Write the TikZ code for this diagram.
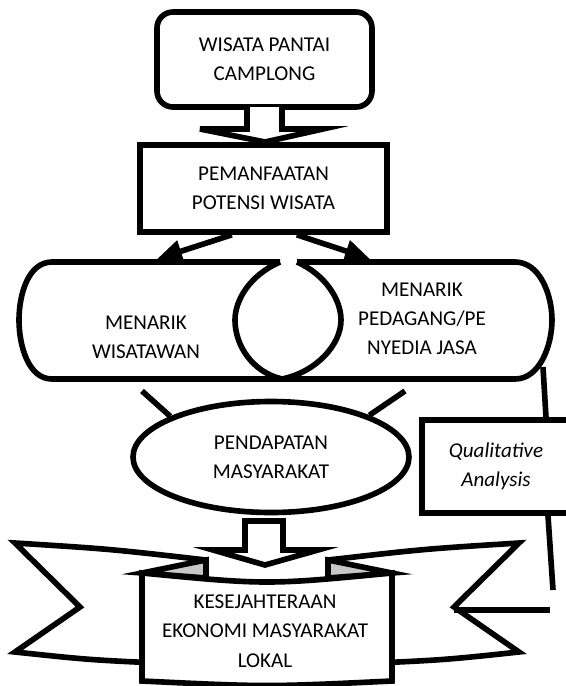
\documentclass[tikz,border=0pt]{standalone}
\usepackage{fontspec}
\setmainfont{Carlito}
\usetikzlibrary{arrows.meta,shapes.geometric}
\tikzset{bx/.style={draw,line width=4.8pt,fill=white,align=center,inner sep=1pt},
 wire/.style={line width=4.8pt},
 flow/.style={-{Triangle[length=7.5mm,width=6.5mm]},line width=4.8pt},
 band/.style={draw,line width=4.8pt,fill=white},
 txt/.style={align=center}}
\begin{document}
\begin{tikzpicture}[x=.03cm,y=-.03cm,font=\fontsize{18}{25}\selectfont]
\useasboundingbox (0,0) rectangle (566,686);
\node[bx,rounded corners=.48cm,minimum width=6.45cm,minimum height=2.85cm] (wisata) at (264.5,59.5) {WISATA PANTAI\\CAMPLONG};
\node[bx,minimum width=7.41cm,minimum height=2.61cm] (manfaat) at (263.5,188.5) {PEMANFAATAN\\POTENSI WISATA};
\draw[band] (247,107)--(247,129)--(200,129)--(265,142)--(323,129)--(282,129)--(282,107);
\draw[wire] (280,262)--(52,262) .. controls (28,262) and (19,295) .. (19,320) .. controls (19,345) and (28,379) .. (52,379)--(282,379);
\draw[wire] (297,262)--(515,262) .. controls (540,262) and (552,295) .. (552,320) .. controls (552,345) and (540,379) .. (515,379)--(282,379);
\draw[wire] (280,262) .. controls (250,275) and (235,300) .. (235,320) .. controls (235,345) and (252,372) .. (282,379);
\draw[wire] (297,262) .. controls (326,275) and (341,300) .. (341,320) .. controls (341,345) and (316,372) .. (282,379);
\coordinate (wl) at (157,259);\coordinate (wr) at (370,259);
\draw[flow] ([xshift=-.95cm]manfaat.south)--(wl);
\draw[flow] ([xshift=1cm]manfaat.south)--(wr);
\node[txt] (wisatawan) at (146,337) {MENARIK\\WISATAWAN};
\node[txt] (pedagang) at (422,319) {MENARIK\\PEDAGANG/PE\\NYEDIA JASA};
\node[bx,ellipse,minimum width=8.28cm,minimum height=3.33cm] (pendapatan) at (271,457) {PENDAPATAN\\MASYARAKAT};
\coordinate (sl) at (142,391);\coordinate (sr) at (405,391);
\draw[wire] (sl)--(pendapatan.158);\draw[wire] (sr)--(pendapatan.23);
\draw[band] (245,521)--(245,550)--(213,550)--(265,565)--(318,550)--(283,550)--(283,521)--cycle;
\foreach \s/\o in {1/0,-1/534}{
 \begin{scope}[shift={(\o,0)},xscale=\s]
 \draw[band] (206,578)--(206,560) .. controls (110,549) .. (15,543)--(80,607)--(15,652) .. controls (90,660) .. (180,664)--cycle;
 \filldraw[wire,fill=black!22] (142,573)--(206,560)--(206,578)--cycle;
 \end{scope}}
\draw[band] (142,573) .. controls (267,585) .. (392,573)--(392,681) .. controls (267,687) .. (142,681)--cycle;
\node[txt] (kesejahteraan) at (265,631) {KESEJAHTERAAN\\EKONOMI MASYARAKAT\\LOKAL};
\node[bx,minimum width=4.44cm,minimum height=2.79cm,font=\fontsize{18}{25}\selectfont\itshape] (qa) at (496,466.5) {Qualitative\\Analysis};
\coordinate (q1) at (543,367);\coordinate (q2) at (553,590);
\coordinate (q3) at (550,610);\coordinate (nr) at (454,610);
\draw[wire] (q1)--([xshift=1.5cm]qa.north);
\draw[wire] ([xshift=1.56cm]qa.south)--(q2);
\draw[wire] (q3)--(nr);
\end{tikzpicture}
\end{document}
